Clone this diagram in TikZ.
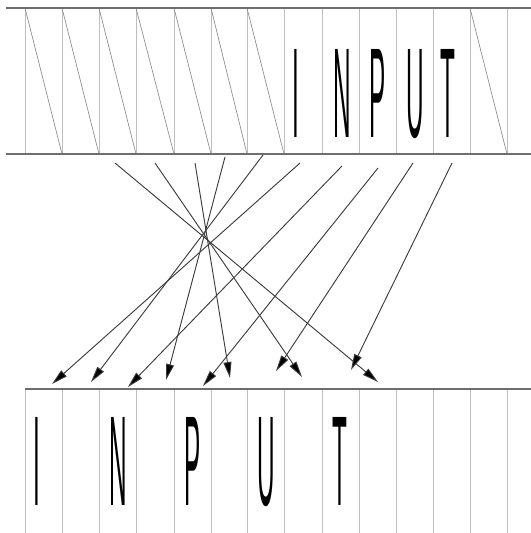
\documentclass[tikz,border=0pt]{standalone}
\usepackage{fontspec}
\usepackage{tikz}
\usetikzlibrary{arrows.meta}
\newfontfamily\lettersfont{Liberation Sans}
\definecolor{barline}{RGB}{110,110,110}
\definecolor{cellline}{RGB}{190,190,190}
\definecolor{slashline}{RGB}{140,140,140}
\definecolor{mapline}{RGB}{60,60,60}
\tikzset{
  rail/.style={draw=barline, line width=1.5pt},
  cell/.style={draw=cellline, line width=0.5pt},
  slash/.style={draw=slashline, line width=0.5pt},
  glyph/.style={font=\lettersfont\fontsize{96}{96}\selectfont, inner sep=0pt, anchor=base, xscale=0.19, text=black},
  maparr/.style={draw=mapline, line width=0.7pt, -{Triangle[length=12pt,width=6pt,fill=black]}},
}
\begin{document}
\begin{tikzpicture}[x=0.75pt,y=-0.75pt]
  \useasboundingbox (0,0) rectangle (531,533);
  % upper strip
  \foreach \x in {25,62,99,136,174,211,247,284,322,359,396,433,470,507}{
    \draw[cell] (\x,8) -- (\x,154);
    \draw[cell] (\x,389) -- (\x,533);
  }
  \foreach \a/\b in {25/62,62/99,99/136,136/174,174/211,211/247,247/284,470/507}{
    \draw[slash] (\a,8) -- (\b,154);
  }
  \draw[rail] (6,8) -- (531,8);
  \draw[rail] (6,154) -- (531,154);
  \node[glyph] (uI) at (296,137) {I};
  \node[glyph] (uN) at (342,137) {N};
  \node[glyph] (uP) at (378,137) {P};
  \node[glyph] (uU) at (415,137) {U};
  \node[glyph] (uT) at (448,137) {T};
  % lower strip
  \draw[rail] (25,389) -- (531,389);
  \node[glyph] (lI) at (37,505) {I};
  \node[glyph] (lN) at (118,505) {N};
  \node[glyph] (lP) at (193,505) {P};
  \node[glyph] (lU) at (266,505) {U};
  \node[glyph] (lT) at (340,505) {T};
  % mapping
  \foreach \i/\sx/\sy/\ex/\ey in {1/115/163/378/382,2/155/163/302/377,3/195/163/230/378,
      4/225/157/166/380,5/263/155/91/382,6/300/163/52/384,7/342/166/128/387,
      8/378/168/203/386,9/413/163/276/371,10/452/163/351/370}{
    \coordinate (s\i) at (\sx,\sy);
    \coordinate (e\i) at (\ex,\ey);
    \draw[maparr] (s\i) -- (e\i);
  }
\end{tikzpicture}
\end{document}
